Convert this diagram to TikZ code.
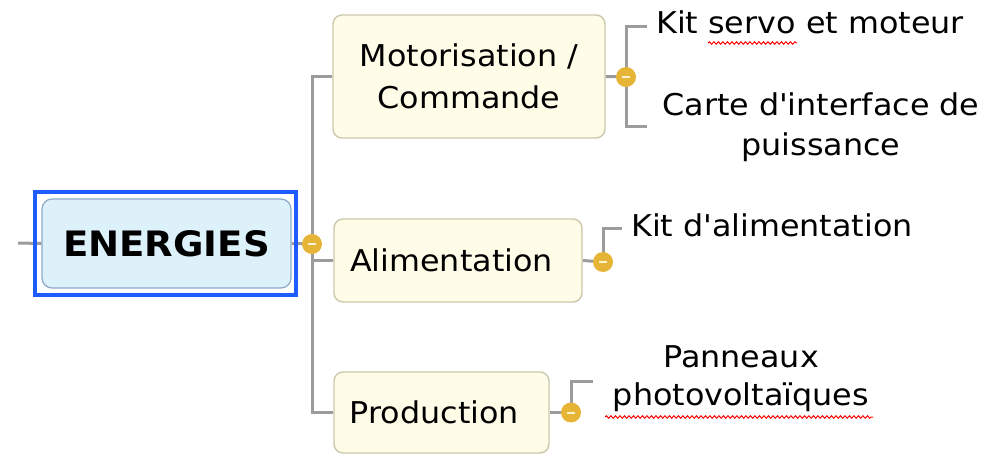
\documentclass[tikz,border=0pt]{standalone}
\usepackage{fontspec}
\setmainfont[FakeStretch=1.06]{DejaVu Sans}
\usetikzlibrary{decorations.pathmorphing}
\pgfdeclarelayer{bg}
\pgfsetlayers{bg,main}
\definecolor{linkgray}{HTML}{9C9C9C}
\definecolor{boxfill}{HTML}{FFFDE8}
\definecolor{boxline}{HTML}{CBC8AC}
\definecolor{rootfill}{HTML}{DDF1FB}
\definecolor{rootline}{HTML}{8EA9C9}
\definecolor{selblue}{HTML}{1E5CFF}
\definecolor{knob}{HTML}{E6B535}
\definecolor{knobdash}{HTML}{FBF1D2}
\begin{document}
\begin{tikzpicture}[x=1pt,y=-1pt,
  every node/.style={font=\fontsize{30}{42}\selectfont, inner sep=0pt},
  topicbox/.style={draw=boxline, fill=boxfill, line width=1.4pt, rounded corners=9pt, align=center},
  leaf/.style={align=center},
  link/.style={draw=linkgray, line width=3pt},
  knobnode/.style={circle, fill=knob, minimum size=20pt, path picture={
      \draw[knobdash, line width=2pt] ([xshift=-4pt]path picture bounding box.center) -- ([xshift=4pt]path picture bounding box.center);}},
  spell/.style={draw=red, line width=1pt, decorate, decoration={snake, segment length=4.5pt, amplitude=1.2pt}}
]
\useasboundingbox (0,0) rectangle (985,454);

% central topic with its selection frame
\node[draw=selblue, line width=3.5pt, minimum width=261pt, minimum height=103pt] (rootsel) at (165.5,243.5) {};
\node[draw=rootline, fill=rootfill, line width=1.2pt, rounded corners=10pt,
      minimum width=249pt, minimum height=89pt, font=\fontsize{35}{40}\selectfont\bfseries] (root) at (166.5,243.5) {ENERGIES};
\coordinate (stub) at (18,243);

% main topics
\node[topicbox, minimum width=272pt, minimum height=123pt] (mot) at (469,76.5) {Motorisation /\\Commande};
\node[topicbox, minimum width=248pt, minimum height=83pt] (alim) at (458,260.5) {Alimentation\hspace{13pt}};
\node[topicbox, minimum width=215pt, minimum height=81pt] (prod) at (441.5,412.5) {Production\hspace{14pt}};

% collapse knobs
\node[knobnode] (k0) at (312,244) {};
\node[knobnode] (k1) at (626,77) {};
\node[knobnode] (k2) at (603,262) {};
\node[knobnode] (k3) at (571,412.5) {};

% subtopics
\node[leaf] (servo) at (810,22) {Kit servo et moteur};
\node[leaf, font=\fontsize{30}{40}\selectfont] (carte) at (821,127) {Carte d\textquotesingle interface de\\puissance};
\node[leaf] (kitalim) at (772,225) {Kit d\textquotesingle alimentation};
\node[leaf, font=\fontsize{30}{38}\selectfont] (pan) at (741,379) {Panneaux\\photovolta\"iques};

% bracket ends
\coordinate (b1a) at (647,27);
\coordinate (b1b) at (647,127);
\coordinate (b2) at (622,229);
\coordinate (b3) at (593,381);

\begin{pgfonlayer}{bg}
  \path[link] (stub) -- (root.west);
  \path[link] (root.east) -- (k0.center);
  \path[link] (mot.west) -| (k0.center) |- (prod.west);
  \path[link] (k0.center) |- (alim.west);
  \path[link] (mot.east) -- (k1.center);
  \path[link] (b1a) -| (k1.center) |- (b1b);
  \path[link] (alim.east) -- (k2.center);
  \path[link] (k2.center) |- (b2);
  \path[link] (prod.east) -- (k3.center);
  \path[link] (k3.center) |- (b3);
\end{pgfonlayer}

% spell-check marks
\coordinate (s1a) at (708,43); \coordinate (s1b) at (797,43);
\coordinate (s2a) at (605,417); \coordinate (s2b) at (873,417);
\path[spell] (s1a) -- (s1b);
\path[spell] (s2a) -- (s2b);
\end{tikzpicture}
\end{document}
